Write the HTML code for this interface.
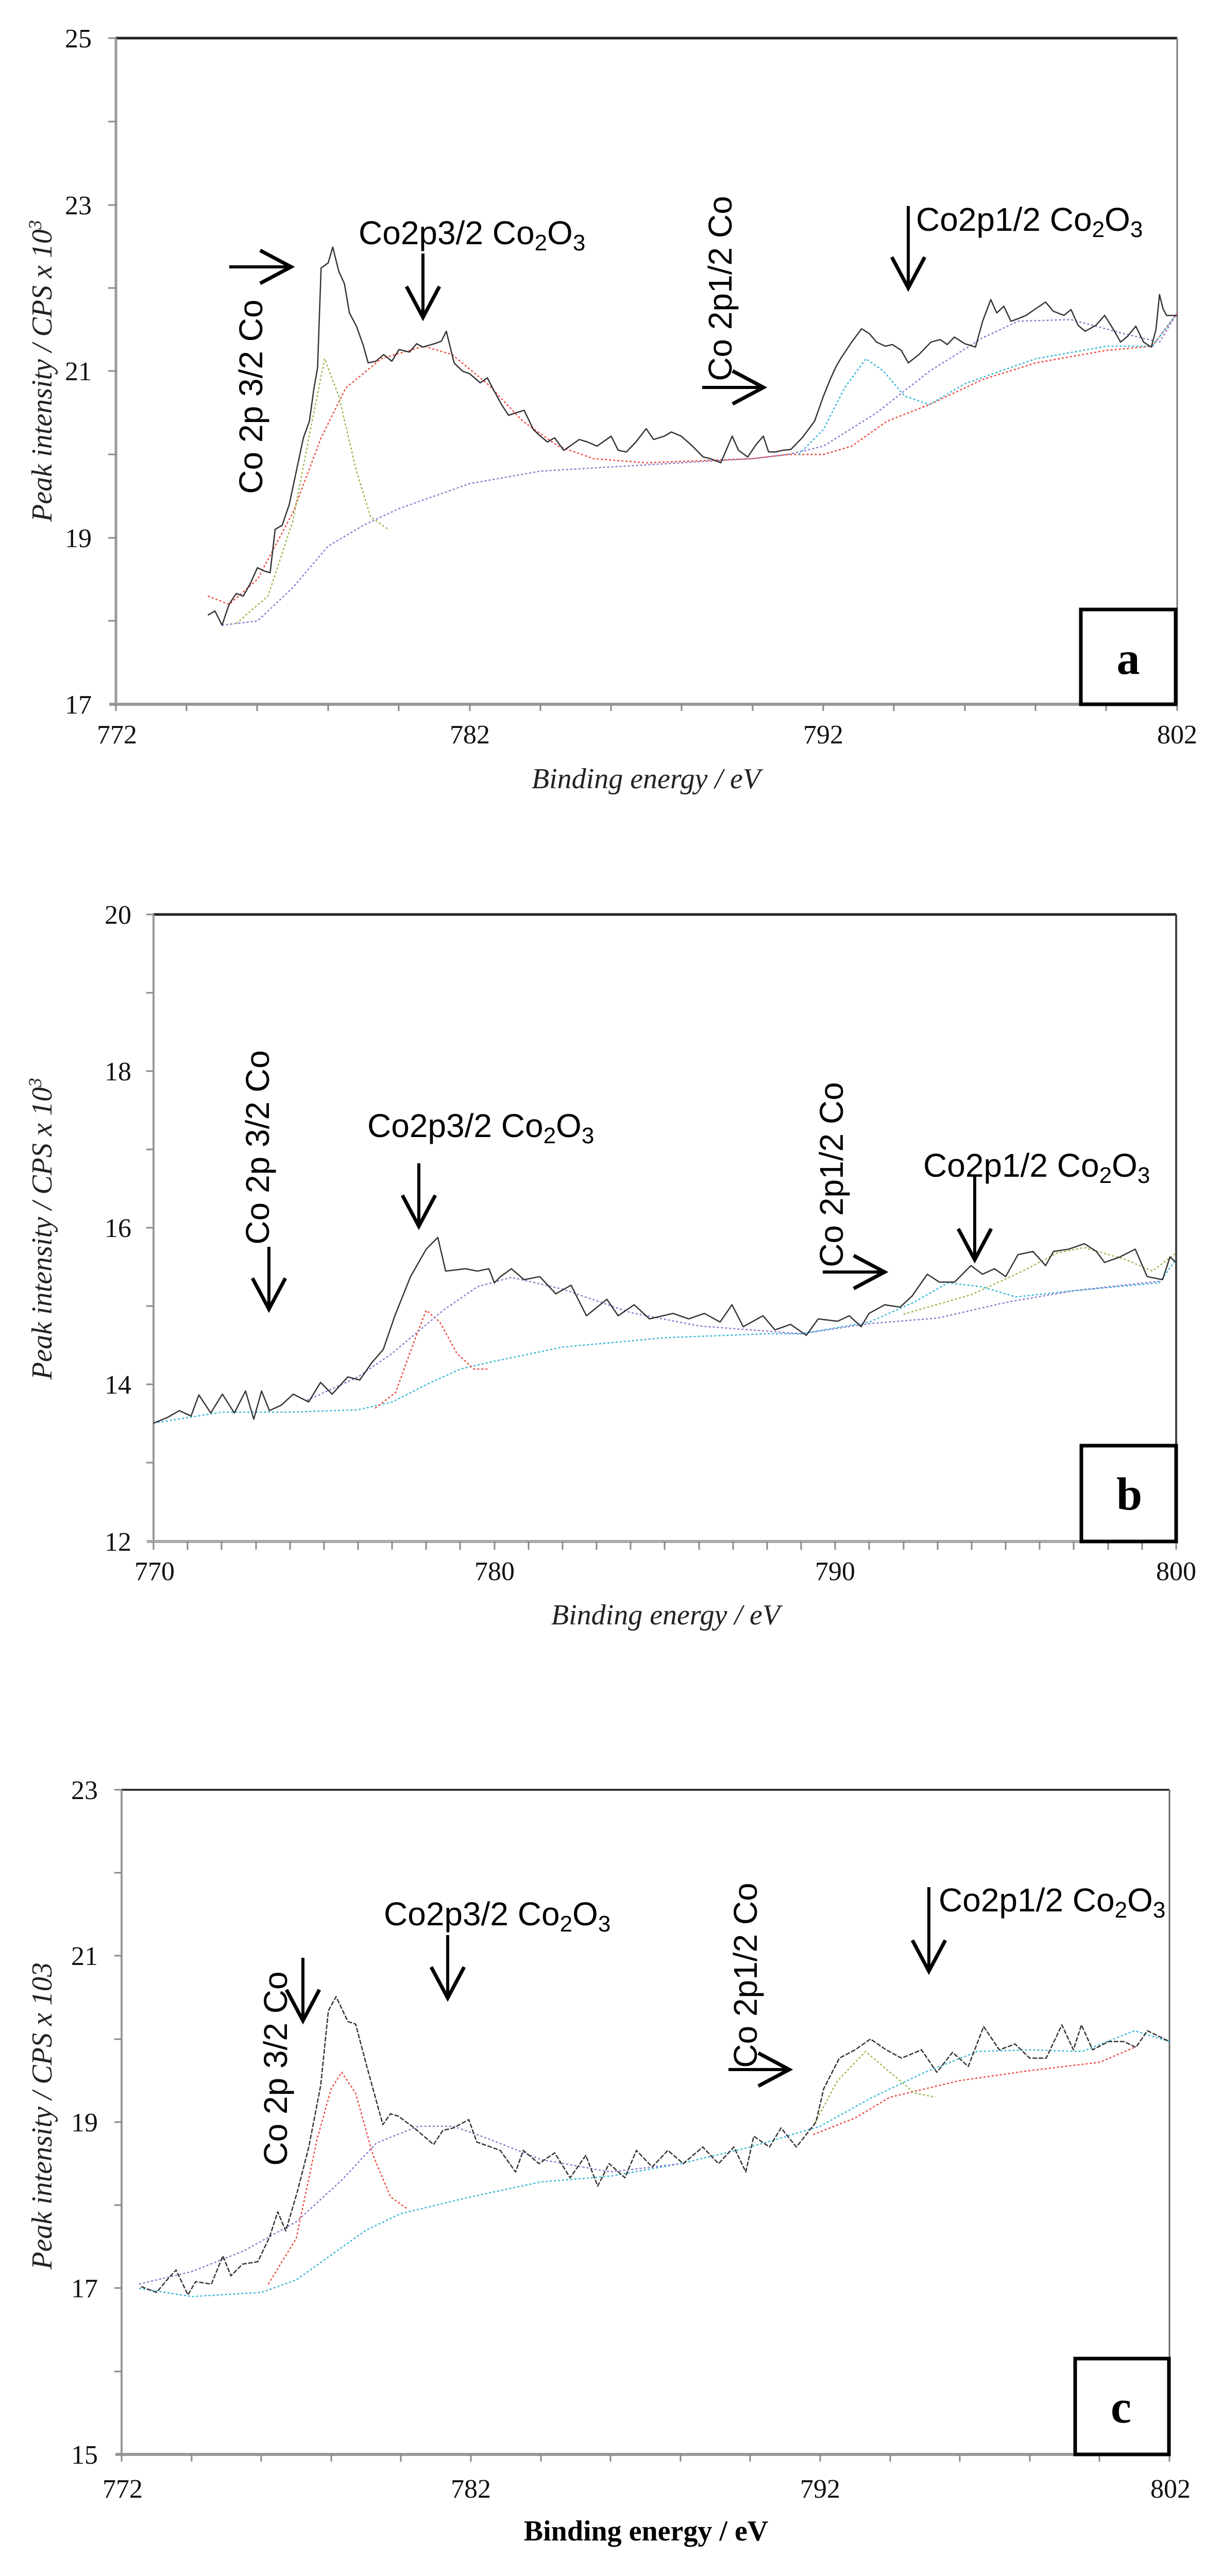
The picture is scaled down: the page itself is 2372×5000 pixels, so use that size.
<!DOCTYPE html>
<html><head><meta charset="utf-8">
<style>
html,body{margin:0;padding:0;background:#fff;}
svg{display:block;}
.ann{font-family:"Liberation Sans",Arial,sans-serif;font-size:64px;fill:#000;}
.tick{font-family:"Liberation Serif",serif;font-size:52px;fill:#111;}
.ttl{font-family:"Liberation Serif",serif;font-size:56px;font-style:italic;fill:#222;}
.d{fill:none;vector-effect:non-scaling-stroke;stroke-linejoin:round;}
</style></head>
<body>
<svg width="2372" height="5000" viewBox="0 0 2372 5000" xmlns="http://www.w3.org/2000/svg">
<defs>
<g id="ah"><path d="M-32,-60 L0,0 L32,-60" fill="none" stroke="#000" stroke-width="7"/></g>
</defs>

<!-- ================= PANEL A ================= -->
<g>
<line x1="225" y1="74" x2="2285" y2="74" stroke="#222" stroke-width="5"/>
<line x1="2285" y1="74" x2="2285" y2="1367" stroke="#777" stroke-width="3"/>
<line x1="225" y1="74" x2="225" y2="1367" stroke="#999" stroke-width="5"/>
<line x1="212" y1="1367" x2="2285" y2="1367" stroke="#999" stroke-width="6"/>
<g stroke="#888" stroke-width="3">
<line x1="210" y1="74" x2="225" y2="74"/><line x1="210" y1="236" x2="225" y2="236"/><line x1="210" y1="398" x2="225" y2="398"/><line x1="210" y1="559" x2="225" y2="559"/><line x1="210" y1="720" x2="225" y2="720"/><line x1="210" y1="882" x2="225" y2="882"/><line x1="210" y1="1044" x2="225" y2="1044"/><line x1="210" y1="1205" x2="225" y2="1205"/>
<line x1="225" y1="1367" x2="225" y2="1380"/><line x1="362" y1="1367" x2="362" y2="1380"/><line x1="499" y1="1367" x2="499" y2="1380"/><line x1="637" y1="1367" x2="637" y2="1380"/><line x1="774" y1="1367" x2="774" y2="1380"/><line x1="912" y1="1367" x2="912" y2="1380"/><line x1="1049" y1="1367" x2="1049" y2="1380"/><line x1="1186" y1="1367" x2="1186" y2="1380"/><line x1="1323" y1="1367" x2="1323" y2="1380"/><line x1="1461" y1="1367" x2="1461" y2="1380"/><line x1="1598" y1="1367" x2="1598" y2="1380"/><line x1="1735" y1="1367" x2="1735" y2="1380"/><line x1="1873" y1="1367" x2="1873" y2="1380"/><line x1="2010" y1="1367" x2="2010" y2="1380"/><line x1="2147" y1="1367" x2="2147" y2="1380"/><line x1="2285" y1="1367" x2="2285" y2="1380"/>
</g>
<g class="tick" text-anchor="end">
<text x="178" y="92">25</text><text x="178" y="416">23</text><text x="178" y="738">21</text><text x="178" y="1062">19</text><text x="178" y="1385">17</text>
</g>
<g class="tick" text-anchor="middle">
<text x="227" y="1443">772</text><text x="912" y="1443">782</text><text x="1598" y="1443">792</text><text x="2285" y="1443">802</text>
</g>
<text class="ttl" x="1254" y="1530" text-anchor="middle">Binding energy / eV</text>
<text class="ttl" transform="translate(100,720) rotate(-90)" text-anchor="middle">Peak intensity / CPS x 10<tspan dy="-20" font-size="36">3</tspan></text>

<svg x="225" y="74" width="2060" height="1293" viewBox="772 -25 30 8" preserveAspectRatio="none" overflow="visible">
<polyline class="d" stroke="#8a7ad0" stroke-width="2.5" stroke-dasharray="4 4" points="775,-17.95 776,-18.0 777,-18.4 778,-18.9 779,-19.15 780,-19.35 782,-19.65 784,-19.8 786,-19.85 788,-19.9 790,-19.95 791,-20.0 792,-20.1 793.5,-20.5 795,-21.0 796.5,-21.4 797.5,-21.6 799,-21.62 800.5,-21.45 801.5,-21.35 802,-21.7"/>
<polyline class="d" stroke="#ef4a40" stroke-width="2.5" stroke-dasharray="4 4" points="774.6,-18.3 775.2,-18.2 776,-18.5 777,-19.3 777.8,-20.2 778.5,-20.8 779.5,-21.15 780.7,-21.3 781.5,-21.2 782.5,-20.85 783.5,-20.4 784.5,-20.1 785.5,-19.95 787,-19.9 790,-19.95 791,-20.0 792,-20.0 792.8,-20.1 793.8,-20.4 795,-20.6 796.5,-20.9 798,-21.1 800,-21.25 801.3,-21.3 802,-21.7"/>
<polyline class="d" stroke="#9ab850" stroke-width="2.5" stroke-dasharray="4 4" points="775.4,-17.97 776.3,-18.3 777,-19.2 777.5,-20.3 777.9,-21.15 778.3,-20.7 778.8,-19.8 779.2,-19.25 779.7,-19.1"/>
<polyline class="d" stroke="#38b8d8" stroke-width="2.5" stroke-dasharray="4 4" points="791.3,-20.0 792,-20.3 792.6,-20.8 793.2,-21.15 793.7,-21.0 794.3,-20.7 795,-20.6 796,-20.85 798,-21.15 800,-21.3 801.3,-21.3 802,-21.7"/>
<polyline class="d" stroke="#333" stroke-width="2.5" points="774.6,-18.07 774.8,-18.12 775,-17.95 775.2,-18.2 775.4,-18.33 775.6,-18.3 775.8,-18.45 776,-18.64 776.2,-18.6 776.36,-18.58 776.5,-19.1 776.7,-19.15 776.9,-19.4 777.1,-19.8 777.3,-20.2 777.47,-20.4 777.6,-20.8 777.7,-21.04 777.8,-22.24 778.0,-22.3 778.13,-22.49 778.3,-22.2 778.46,-22.05 778.6,-21.7 778.8,-21.54 779.0,-21.3 779.13,-21.1 779.35,-21.12 779.57,-21.2 779.8,-21.12 780.0,-21.26 780.3,-21.23 780.5,-21.33 780.68,-21.29 781.0,-21.33 781.2,-21.36 781.34,-21.48 781.56,-21.1 781.8,-21.0 782.0,-20.97 782.3,-20.86 782.5,-20.92 782.67,-20.78 782.9,-20.6 783.1,-20.47 783.3,-20.5 783.54,-20.53 783.8,-20.3 784.0,-20.22 784.2,-20.15 784.4,-20.2 784.66,-20.05 784.9,-20.12 785.1,-20.18 785.33,-20.15 785.6,-20.1 786.0,-20.22 786.2,-20.05 786.43,-20.03 786.7,-20.15 786.99,-20.31 787.2,-20.18 787.5,-20.22 787.7,-20.27 787.98,-20.22 788.3,-20.1 788.6,-19.97 788.8,-19.95 789.1,-19.9 789.25,-20.05 789.42,-20.22 789.6,-20.05 789.86,-19.97 790.1,-20.12 790.3,-20.22 790.45,-20.03 790.64,-20.03 790.85,-20.05 791.08,-20.06 791.4,-20.2 791.75,-20.4 792.0,-20.7 792.2,-20.91 792.35,-21.05 792.5,-21.16 792.8,-21.35 793.08,-21.51 793.3,-21.45 793.5,-21.35 793.75,-21.3 793.95,-21.32 794.2,-21.25 794.4,-21.1 794.7,-21.2 795.04,-21.35 795.3,-21.38 795.5,-21.32 795.7,-21.41 796.0,-21.33 796.3,-21.29 796.5,-21.6 796.73,-21.86 796.9,-21.7 797.1,-21.78 797.3,-21.6 797.5,-21.63 797.73,-21.67 798.0,-21.75 798.28,-21.83 798.5,-21.72 798.8,-21.67 799.0,-21.74 799.2,-21.55 799.4,-21.48 799.7,-21.55 799.95,-21.67 800.2,-21.5 800.4,-21.35 800.6,-21.42 800.83,-21.54 801.05,-21.35 801.27,-21.29 801.4,-21.5 801.5,-21.92 801.6,-21.75 801.7,-21.67 802,-21.67"/>
</svg>

<text class="ann" x="696" y="474">Co2p3/2 Co<tspan dy="12" font-size="44">2</tspan><tspan dy="-12">O</tspan><tspan dy="12" font-size="44">3</tspan></text>
<line x1="821" y1="492" x2="821" y2="616" stroke="#000" stroke-width="6"/><use href="#ah" x="821" y="616"/>
<text class="ann" transform="translate(509,770) rotate(-90)" text-anchor="middle">Co 2p 3/2 Co</text>
<line x1="445" y1="518" x2="565" y2="518" stroke="#000" stroke-width="6"/><use href="#ah" transform="translate(565,518) rotate(-90)"/>
<text class="ann" transform="translate(1420,560) rotate(-90)" text-anchor="middle">Co 2p1/2 Co</text>
<line x1="1363" y1="752" x2="1482" y2="752" stroke="#000" stroke-width="6"/><use href="#ah" transform="translate(1482,752) rotate(-90)"/>
<text class="ann" x="1778" y="448">Co2p1/2 Co<tspan dy="12" font-size="44">2</tspan><tspan dy="-12">O</tspan><tspan dy="12" font-size="44">3</tspan></text>
<line x1="1763" y1="400" x2="1763" y2="559" stroke="#000" stroke-width="6"/><use href="#ah" x="1763" y="559"/>

<rect x="2098" y="1183" width="184" height="184" fill="#fff" stroke="#000" stroke-width="7"/>
<text x="2190" y="1308" text-anchor="middle" font-family="Liberation Serif,serif" font-weight="bold" font-size="90">a</text>
</g>

<!-- ================= PANEL B ================= -->
<g>
<line x1="298" y1="1775" x2="2283" y2="1775" stroke="#222" stroke-width="5"/>
<line x1="2283" y1="1775" x2="2283" y2="2992" stroke="#444" stroke-width="4"/>
<line x1="298" y1="1775" x2="298" y2="2992" stroke="#999" stroke-width="4"/>
<line x1="285" y1="2992" x2="2283" y2="2992" stroke="#aaa" stroke-width="6"/>
<g stroke="#888" stroke-width="3">
<line x1="284" y1="1775" x2="298" y2="1775"/><line x1="284" y1="1927" x2="298" y2="1927"/><line x1="284" y1="2079" x2="298" y2="2079"/><line x1="284" y1="2231" x2="298" y2="2231"/><line x1="284" y1="2383" x2="298" y2="2383"/><line x1="284" y1="2535" x2="298" y2="2535"/><line x1="284" y1="2687" x2="298" y2="2687"/><line x1="284" y1="2839" x2="298" y2="2839"/>
</g>
<g stroke="#888" stroke-width="3" id="tb">
<line x1="298" y1="2992" x2="298" y2="3008"/><line x1="364" y1="2992" x2="364" y2="3008"/><line x1="430" y1="2992" x2="430" y2="3008"/><line x1="497" y1="2992" x2="497" y2="3008"/><line x1="563" y1="2992" x2="563" y2="3008"/><line x1="629" y1="2992" x2="629" y2="3008"/><line x1="695" y1="2992" x2="695" y2="3008"/><line x1="761" y1="2992" x2="761" y2="3008"/><line x1="827" y1="2992" x2="827" y2="3008"/><line x1="893" y1="2992" x2="893" y2="3008"/><line x1="960" y1="2992" x2="960" y2="3008"/><line x1="1026" y1="2992" x2="1026" y2="3008"/><line x1="1092" y1="2992" x2="1092" y2="3008"/><line x1="1158" y1="2992" x2="1158" y2="3008"/><line x1="1224" y1="2992" x2="1224" y2="3008"/><line x1="1290" y1="2992" x2="1290" y2="3008"/><line x1="1357" y1="2992" x2="1357" y2="3008"/><line x1="1423" y1="2992" x2="1423" y2="3008"/><line x1="1489" y1="2992" x2="1489" y2="3008"/><line x1="1555" y1="2992" x2="1555" y2="3008"/><line x1="1621" y1="2992" x2="1621" y2="3008"/><line x1="1687" y1="2992" x2="1687" y2="3008"/><line x1="1754" y1="2992" x2="1754" y2="3008"/><line x1="1820" y1="2992" x2="1820" y2="3008"/><line x1="1886" y1="2992" x2="1886" y2="3008"/><line x1="1952" y1="2992" x2="1952" y2="3008"/><line x1="2018" y1="2992" x2="2018" y2="3008"/><line x1="2084" y1="2992" x2="2084" y2="3008"/><line x1="2151" y1="2992" x2="2151" y2="3008"/><line x1="2217" y1="2992" x2="2217" y2="3008"/><line x1="2283" y1="2992" x2="2283" y2="3008"/>
</g>
<g class="tick" text-anchor="end">
<text x="255" y="1793">20</text><text x="255" y="2097">18</text><text x="255" y="2401">16</text><text x="255" y="2705">14</text><text x="255" y="3010">12</text>
</g>
<g class="tick" text-anchor="middle">
<text x="300" y="3067">770</text><text x="960" y="3067">780</text><text x="1621" y="3067">790</text><text x="2283" y="3067">800</text>
</g>
<text class="ttl" x="1292" y="3153" text-anchor="middle">Binding energy / eV</text>
<text class="ttl" transform="translate(100,2385) rotate(-90)" text-anchor="middle">Peak intensity / CPS x 10<tspan dy="-20" font-size="36">3</tspan></text>

<svg x="298" y="1775" width="1985" height="1217" viewBox="770 -20 30 8" preserveAspectRatio="none" overflow="visible">
<polyline class="d" stroke="#38b8d8" stroke-width="2.5" stroke-dasharray="4 4" points="770,-13.51 772,-13.65 774,-13.65 776,-13.68 777,-13.78 778,-14.0 779,-14.2 780,-14.3 782,-14.48 785,-14.6 788,-14.65 789,-14.65 791,-14.8 792.3,-15.05 793.3,-15.3 794.3,-15.25 795.3,-15.12 797,-15.2 799.5,-15.3 800,-15.6"/>
<polyline class="d" stroke="#ef4a40" stroke-width="2.5" stroke-dasharray="4 4" points="776.5,-13.7 777.1,-13.9 777.6,-14.5 778,-14.95 778.4,-14.8 778.9,-14.4 779.4,-14.2 779.8,-14.2"/>
<polyline class="d" stroke="#8a7ad0" stroke-width="2.5" stroke-dasharray="4 4" points="774.5,-13.8 776,-14.1 777,-14.4 778.5,-14.95 779.5,-15.25 780.5,-15.37 782,-15.22 784,-14.92 786,-14.75 789,-14.65 791,-14.78 793,-14.85 795,-15.05 797,-15.2 799.5,-15.32"/>
<polyline class="d" stroke="#9ab850" stroke-width="2.5" stroke-dasharray="4 4" points="792,-14.9 794,-15.15 795.5,-15.45 796.5,-15.68 797.3,-15.75 798.5,-15.6 799.3,-15.45 800,-15.68"/>
<polyline class="d" stroke="#333" stroke-width="2.5" points="770,-13.51 770.4,-13.58 770.76,-13.67 771.1,-13.6 771.33,-13.87 771.68,-13.64 772.02,-13.88 772.37,-13.64 772.7,-13.92 772.94,-13.56 773.17,-13.92 773.4,-13.67 773.75,-13.74 774.1,-13.88 774.55,-13.78 774.9,-14.03 775.24,-13.88 775.7,-14.1 776.05,-14.06 776.4,-14.28 776.74,-14.45 777.08,-14.88 777.54,-15.38 778.0,-15.73 778.34,-15.88 778.57,-15.45 779.15,-15.48 779.5,-15.45 779.84,-15.48 780.0,-15.3 780.18,-15.38 780.5,-15.48 780.87,-15.34 781.33,-15.38 781.8,-15.16 782.25,-15.27 782.7,-14.88 783.3,-15.09 783.63,-14.88 784.1,-15.02 784.55,-14.84 785.24,-14.91 785.7,-14.84 786.16,-14.91 786.62,-14.8 786.97,-15.02 787.3,-14.74 787.88,-14.88 788.23,-14.7 788.69,-14.77 789.15,-14.63 789.5,-14.84 790.07,-14.81 790.41,-14.88 790.76,-14.74 790.99,-14.91 791.45,-15.02 791.9,-14.99 792.25,-15.13 792.7,-15.41 793.05,-15.31 793.5,-15.31 793.98,-15.52 794.32,-15.41 794.67,-15.48 795,-15.38 795.36,-15.66 795.8,-15.7 796.17,-15.52 796.4,-15.7 796.85,-15.73 797.31,-15.8 797.66,-15.7 797.9,-15.56 798.35,-15.63 798.8,-15.73 799.15,-15.38 799.6,-15.34 799.82,-15.63 800,-15.56"/>
</svg>

<text class="ann" transform="translate(522,2227) rotate(-90)" text-anchor="middle">Co 2p 3/2 Co</text>
<line x1="522" y1="2420" x2="522" y2="2541" stroke="#000" stroke-width="6"/><use href="#ah" x="522" y="2541"/>
<text class="ann" x="713" y="2207">Co2p3/2 Co<tspan dy="12" font-size="44">2</tspan><tspan dy="-12">O</tspan><tspan dy="12" font-size="44">3</tspan></text>
<line x1="813" y1="2258" x2="813" y2="2380" stroke="#000" stroke-width="6"/><use href="#ah" x="813" y="2380"/>
<text class="ann" transform="translate(1636,2280) rotate(-90)" text-anchor="middle">Co 2p1/2 Co</text>
<line x1="1597" y1="2469" x2="1717" y2="2469" stroke="#000" stroke-width="6"/><use href="#ah" transform="translate(1717,2469) rotate(-90)"/>
<text class="ann" x="1792" y="2284">Co2p1/2 Co<tspan dy="12" font-size="44">2</tspan><tspan dy="-12">O</tspan><tspan dy="12" font-size="44">3</tspan></text>
<line x1="1892" y1="2284" x2="1892" y2="2445" stroke="#000" stroke-width="6"/><use href="#ah" x="1892" y="2445"/>

<rect x="2099" y="2806" width="184" height="186" fill="#fff" stroke="#000" stroke-width="7"/>
<text x="2192" y="2930" text-anchor="middle" font-family="Liberation Serif,serif" font-weight="bold" font-size="90">b</text>
</g>

<!-- ================= PANEL C ================= -->
<g>
<line x1="236" y1="3474" x2="2270" y2="3474" stroke="#333" stroke-width="4"/>
<line x1="2270" y1="3474" x2="2270" y2="4764" stroke="#666" stroke-width="3"/>
<line x1="236" y1="3474" x2="236" y2="4764" stroke="#999" stroke-width="4"/>
<line x1="224" y1="4764" x2="2270" y2="4764" stroke="#999" stroke-width="6"/>
<g stroke="#888" stroke-width="3">
<line x1="222" y1="3474" x2="236" y2="3474"/><line x1="222" y1="3635" x2="236" y2="3635"/><line x1="222" y1="3796" x2="236" y2="3796"/><line x1="222" y1="3958" x2="236" y2="3958"/><line x1="222" y1="4119" x2="236" y2="4119"/><line x1="222" y1="4280" x2="236" y2="4280"/><line x1="222" y1="4441" x2="236" y2="4441"/><line x1="222" y1="4603" x2="236" y2="4603"/>
<line x1="236" y1="4764" x2="236" y2="4778"/><line x1="372" y1="4764" x2="372" y2="4778"/><line x1="507" y1="4764" x2="507" y2="4778"/><line x1="643" y1="4764" x2="643" y2="4778"/><line x1="778" y1="4764" x2="778" y2="4778"/><line x1="914" y1="4764" x2="914" y2="4778"/><line x1="1050" y1="4764" x2="1050" y2="4778"/><line x1="1185" y1="4764" x2="1185" y2="4778"/><line x1="1321" y1="4764" x2="1321" y2="4778"/><line x1="1456" y1="4764" x2="1456" y2="4778"/><line x1="1592" y1="4764" x2="1592" y2="4778"/><line x1="1728" y1="4764" x2="1728" y2="4778"/><line x1="1863" y1="4764" x2="1863" y2="4778"/><line x1="1999" y1="4764" x2="1999" y2="4778"/><line x1="2134" y1="4764" x2="2134" y2="4778"/><line x1="2270" y1="4764" x2="2270" y2="4778"/>
</g>
<g class="tick" text-anchor="end">
<text x="190" y="3492">23</text><text x="190" y="3814">21</text><text x="190" y="4137">19</text><text x="190" y="4459">17</text><text x="190" y="4782">15</text>
</g>
<g class="tick" text-anchor="middle">
<text x="238" y="4848">772</text><text x="914" y="4848">782</text><text x="1592" y="4848">792</text><text x="2272" y="4848">802</text>
</g>
<text x="1254" y="4931" text-anchor="middle" font-family="Liberation Serif,serif" font-weight="bold" font-size="56">Binding energy / eV</text>
<text class="ttl" transform="translate(100,4107) rotate(-90)" text-anchor="middle">Peak intensity / CPS x 103</text>

<svg x="236" y="3474" width="2034" height="1290" viewBox="772 -23 30 8" preserveAspectRatio="none" overflow="visible">
<polyline class="d" stroke="#38b8d8" stroke-width="2.5" stroke-dasharray="4 4" points="772.5,-17.0 774,-16.9 776,-16.95 777,-17.1 778,-17.4 779,-17.7 780,-17.9 782,-18.1 784,-18.28 786,-18.35 788,-18.5 790,-18.7 792,-18.95 793.5,-19.3 795,-19.6 796.5,-19.85 798,-19.87 799.5,-19.85 801,-20.1 802,-19.97"/>
<polyline class="d" stroke="#ef4a40" stroke-width="2.5" stroke-dasharray="4 4" points="776.2,-17.05 777,-17.6 777.6,-18.8 778.0,-19.4 778.3,-19.6 778.7,-19.35 779.2,-18.6 779.7,-18.1 780.2,-17.95"/>
<polyline class="d" stroke="#ef4a40" stroke-width="2.5" stroke-dasharray="4 4" points="791.8,-18.85 793,-19.05 794,-19.3 796,-19.5 798,-19.62 800,-19.72 801,-19.9"/>
<polyline class="d" stroke="#8a7ad0" stroke-width="2.5" stroke-dasharray="4 4" points="772.5,-17.05 774,-17.2 775.5,-17.45 777,-17.8 778.3,-18.3 779.3,-18.75 780.5,-18.95 781.5,-18.95 782.5,-18.8 784,-18.55 786,-18.4 788,-18.5"/>
<polyline class="d" stroke="#9ab850" stroke-width="2.5" stroke-dasharray="4 4" points="791.8,-18.95 792.5,-19.5 793.3,-19.85 794,-19.6 794.7,-19.35 795.3,-19.3"/>
<polyline class="d" stroke="#333" stroke-width="2.5" stroke-dasharray="9 3" points="772.56,-17.02 773.0,-16.95 773.3,-17.1 773.56,-17.22 773.9,-16.92 774.12,-17.08 774.57,-17.05 774.9,-17.39 775.13,-17.15 775.46,-17.29 775.9,-17.32 776.24,-17.62 776.47,-17.92 776.7,-17.69 777.03,-18.16 777.36,-18.7 777.7,-19.44 777.92,-20.34 778.14,-20.51 778.48,-20.21 778.7,-20.18 779.04,-19.64 779.48,-18.97 779.7,-19.1 779.93,-19.07 780.38,-18.93 780.93,-18.73 781.2,-18.9 781.5,-18.93 781.94,-19.03 782.17,-18.76 782.84,-18.66 783.28,-18.4 783.5,-18.66 783.95,-18.5 784.4,-18.63 784.84,-18.33 785.29,-18.6 785.63,-18.23 785.96,-18.5 786.41,-18.33 786.74,-18.66 787.19,-18.46 787.64,-18.66 788.08,-18.5 788.64,-18.7 789.09,-18.5 789.53,-18.7 789.87,-18.4 790.1,-18.83 790.55,-18.7 790.88,-18.93 791.32,-18.7 791.88,-19.0 792.1,-19.4 792.55,-19.77 793.0,-19.87 793.44,-20.0 793.89,-19.87 794.33,-19.77 794.9,-19.87 795.34,-19.6 795.79,-19.84 796.24,-19.67 796.68,-20.15 797.13,-19.87 797.58,-19.94 798.0,-19.77 798.47,-19.77 798.92,-20.17 799.25,-19.87 799.48,-20.17 799.8,-19.87 800.26,-19.97 800.7,-19.97 801.04,-19.9 801.37,-20.1 802,-19.97"/>
</svg>

<text class="ann" x="745" y="3737">Co2p3/2 Co<tspan dy="12" font-size="44">2</tspan><tspan dy="-12">O</tspan><tspan dy="12" font-size="44">3</tspan></text>
<line x1="869" y1="3756" x2="869" y2="3878" stroke="#000" stroke-width="6"/><use href="#ah" x="869" y="3878"/>
<text class="ann" transform="translate(557,4015) rotate(-90)" text-anchor="middle">Co 2p 3/2 Co</text>
<line x1="588" y1="3800" x2="588" y2="3922" stroke="#000" stroke-width="6"/><use href="#ah" x="588" y="3922"/>
<text class="ann" transform="translate(1469,3834) rotate(-90)" text-anchor="middle">Co 2p1/2 Co</text>
<line x1="1414" y1="4017" x2="1532" y2="4017" stroke="#000" stroke-width="6"/><use href="#ah" transform="translate(1532,4017) rotate(-90)"/>
<text class="ann" x="1822" y="3710">Co2p1/2 Co<tspan dy="12" font-size="44">2</tspan><tspan dy="-12">O</tspan><tspan dy="12" font-size="44">3</tspan></text>
<line x1="1803" y1="3663" x2="1803" y2="3826" stroke="#000" stroke-width="6"/><use href="#ah" x="1803" y="3826"/>

<rect x="2087" y="4578" width="182" height="186" fill="#fff" stroke="#000" stroke-width="7"/>
<text x="2176" y="4702" text-anchor="middle" font-family="Liberation Serif,serif" font-weight="bold" font-size="90">c</text>
</g>
</svg>
</body></html>
